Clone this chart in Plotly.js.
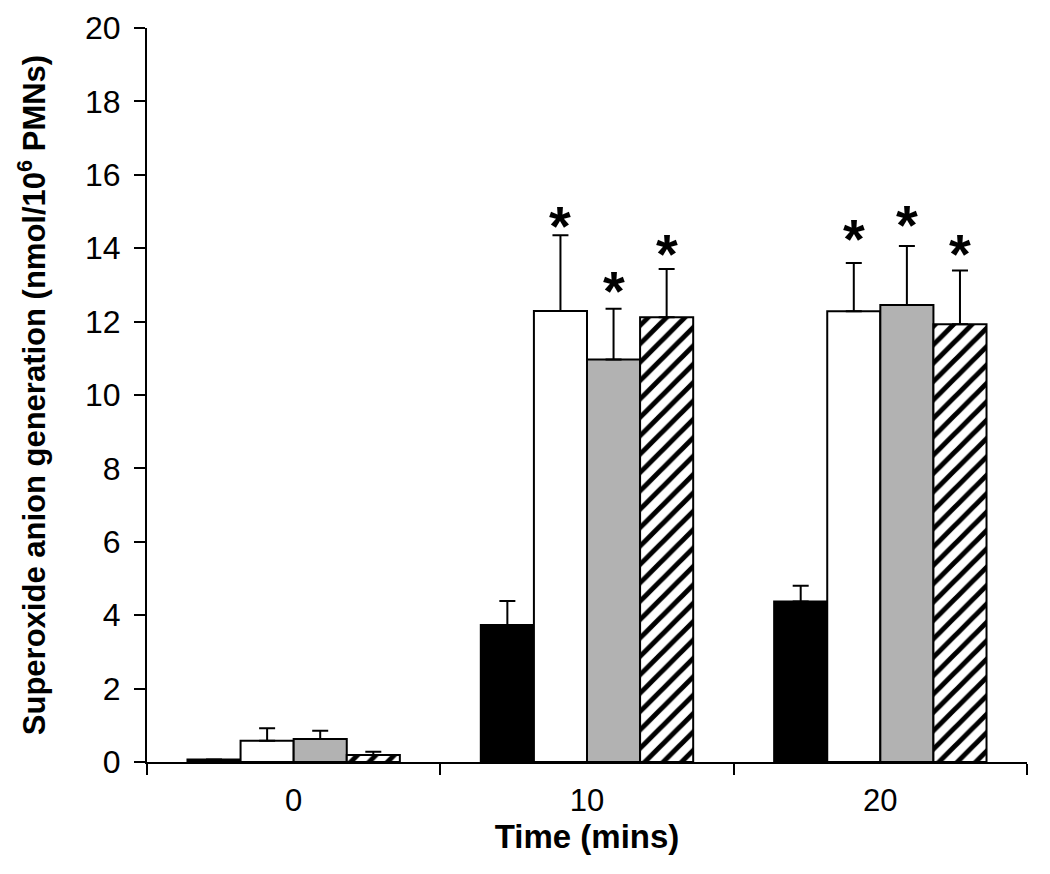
<!DOCTYPE html>
<html>
<head>
<meta charset="utf-8">
<script src="https://cdn.plot.ly/plotly-3.0.1.min.js"></script>
<style>html,body{margin:0;padding:0;background:#fff;}#chart{width:1050px;height:874px;}</style>
</head>
<body>
<div id="chart"></div>
<script>
// Data
const categories = ['0', '10', '20'];
const seriesNames = ['Series A', 'Series B', 'Series C', 'Series D'];
const valuesA = [0.07, 3.73, 4.37];
const errorsA = [0.0, 0.66, 0.43];
const valuesB = [0.58, 12.29, 12.28];
const errorsB = [0.34, 2.06, 1.32];
const valuesC = [0.63, 10.97, 12.45];
const errorsC = [0.22, 1.38, 1.61];
const valuesD = [0.19, 12.12, 11.93];
const errorsD = [0.09, 1.31, 1.46];
// Height (in y units) at which each significance asterisk is drawn; null = none
const starA = [null, null, null];
const starB = [null, 14.71, 14.36];
const starC = [null, 12.95, 14.75];
const starD = [null, 13.95, 13.95];

const allValues = [valuesA, valuesB, valuesC, valuesD];
const allErrors = [errorsA, errorsB, errorsC, errorsD];
const allStars = [starA, starB, starC, starD];
const fills = ['#000000', '#ffffff', '#b2b2b2', '#ffffff'];

const bargap = 0.276;
const nSeries = allValues.length;
const barW = (1 - bargap) / nSeries;
const FONT = 'Liberation Sans, Arial, sans-serif';

const traces = allValues.map((vals, i) => {
  const t = {
    type: 'bar',
    name: seriesNames[i],
    x: categories,
    y: vals,
    marker: {color: fills[i], line: {color: '#000', width: 2}},
    error_y: {type: 'data', array: allErrors[i], symmetric: false,
              arrayminus: vals.map(() => 0), color: '#000', thickness: 2, width: 8},
    showlegend: false
  };
  if (i === 3) {
    t.marker.pattern = {shape: '/', fgcolor: '#000', bgcolor: '#fff', size: 13, solidity: 0.38, fillmode: 'replace'};
  }
  return t;
});

const annotations = [];
allStars.forEach((stars, i) => {
  stars.forEach((s, j) => {
    if (s === null) return;
    annotations.push({
      x: j + (i - (nSeries - 1) / 2) * barW,
      y: s,
      xref: 'x', yref: 'y',
      text: '*', showarrow: false,
      yanchor: 'bottom', yshift: -37,
      font: {family: FONT, size: 56, color: '#000', weight: 'bold'}
    });
  });
});

const layout = {
  width: 1050, height: 874,
  margin: {l: 147, r: 23, t: 28, b: 112},
  paper_bgcolor: '#fff', plot_bgcolor: '#fff',
  barmode: 'group', bargap: bargap, bargroupgap: 0,
  xaxis: {
    type: 'category', range: [-0.5, 2.5],
    showline: true, linecolor: '#000', linewidth: 2,
    ticks: 'outside', tickson: 'boundaries', ticklen: 11, tickwidth: 2, tickcolor: '#000',
    showgrid: false, zeroline: false,
    ticklabelstandoff: 10,
    tickfont: {family: FONT, size: 31, color: '#000'},
    title: {text: '<b>Time (mins)</b>', standoff: 8,
            font: {family: FONT, size: 33, color: '#000'}}
  },
  yaxis: {
    range: [0, 20], dtick: 2, tick0: 0,
    showline: true, linecolor: '#000', linewidth: 2,
    ticks: 'outside', ticklen: 11, tickwidth: 2, tickcolor: '#000',
    showgrid: false, zeroline: false,
    ticklabelstandoff: 7,
    tickfont: {family: FONT, size: 32, color: '#000'},
    title: {text: '<b>Superoxide anion generation (nmol/10<sup>6</sup> PMNs)</b>', standoff: 30,
            font: {family: FONT, size: 31, color: '#000'}}
  },
  annotations: annotations
};

Plotly.newPlot('chart', traces, layout, {displayModeBar: false, staticPlot: true});
</script>
</body>
</html>
